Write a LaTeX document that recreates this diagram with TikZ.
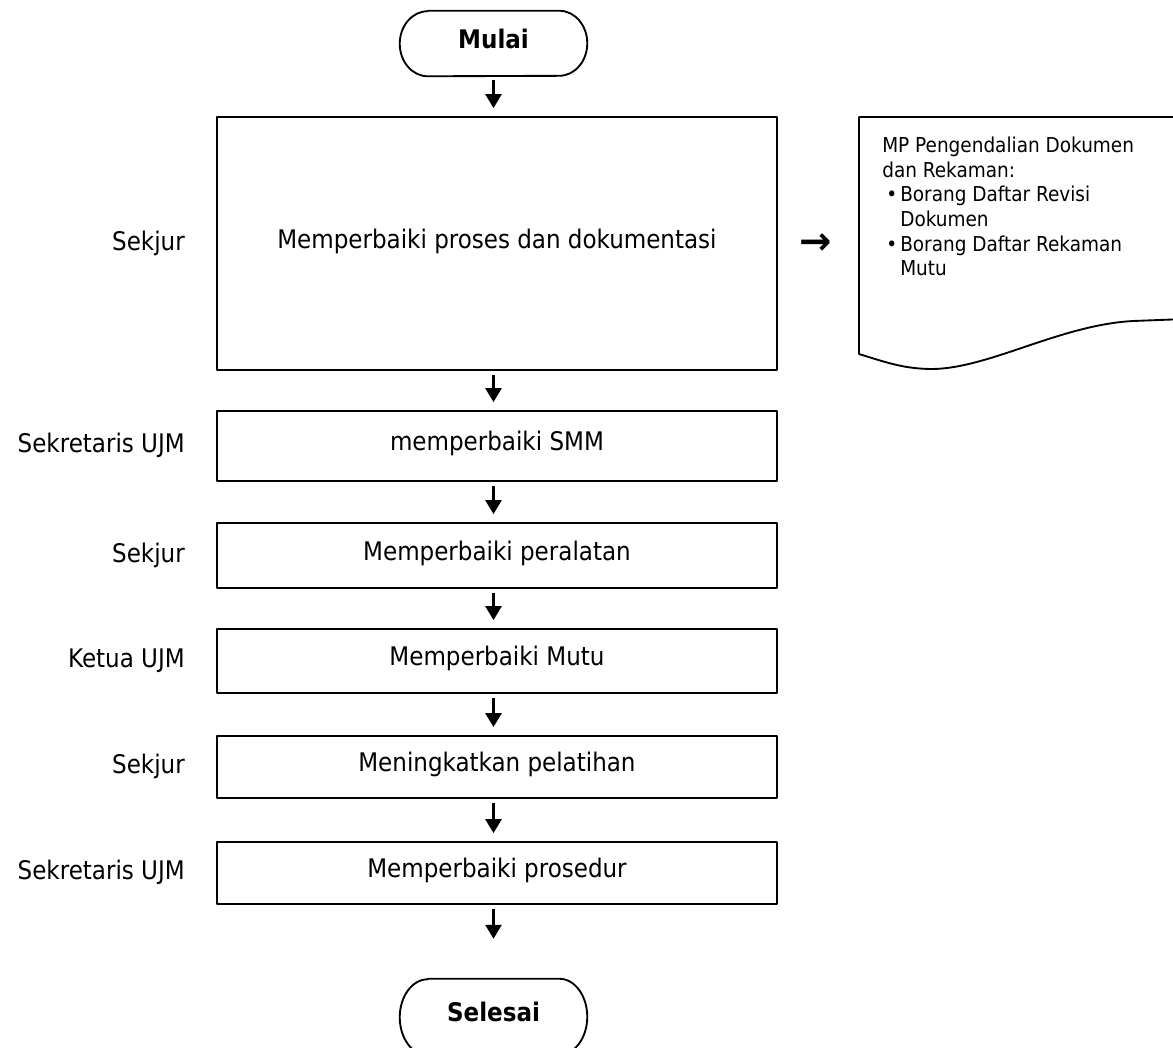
\documentclass[tikz,border=0pt]{standalone}
\usepackage{fontspec}
\setmainfont{DejaVu Sans Condensed}
\newfontfamily\arrowfont{DejaVu Sans}
\usetikzlibrary{arrows.meta}
\begin{document}
\begin{tikzpicture}[x=0.75pt,y=-0.75pt,line join=round,
    >={Triangle[length=10.5pt,width=12pt]},
    font=\fontsize{19.2pt}{23pt}\selectfont,
    edge/.style={line width=1.4pt},
    txt/.style={inner sep=0pt,text height=0.73em,text depth=0pt},
    box/.style={edge,draw,txt,minimum width=420pt},
    term/.style={txt,font=\fontsize{19.2pt}{23pt}\selectfont\bfseries,minimum width=140.25pt},
    flow/.style={->,line width=2.1pt,shorten <=3pt,shorten >=6pt},
    doctext/.style={inner sep=0pt,align=left,font=\fontsize{15.4pt}{18.4pt}\selectfont}]
    \useasboundingbox (0,0) rectangle (1173,1047);
    \clip (0,0) rectangle (1173,1047);
    \node[term,minimum height=48.75pt] (mulai) at (493.5,43.5) {Mulai};
    \node[term,minimum height=57pt] (selesai) at (493.5,1017) {Selesai};
    \foreach \n/\ry in {mulai/24.4pt,selesai/28.5pt}
        \draw[edge] ([xshift=21pt]\n.north west) -- ([xshift=-21pt]\n.north east)
            arc[start angle=90,end angle=-90,x radius=21pt,y radius=\ry]
            -- ([xshift=21pt]\n.south west)
            arc[start angle=270,end angle=90,x radius=21pt,y radius=\ry] -- cycle;
    \foreach \t/\b/\txt/\who [count=\i] in {117/370/Memperbaiki proses dan dokumentasi/Sekjur,
        411/481/memperbaiki SMM/Sekretaris UJM,523/588/Memperbaiki peralatan/Sekjur,
        629/693/Memperbaiki Mutu/Ketua UJM,736/798/Meningkatkan pelatihan/Sekjur,
        842/904/Memperbaiki prosedur/Sekretaris UJM}
    {
        \node[box,minimum height={(\b-\t)*0.75pt}] (box\i) at (497,{(\t+\b)/2}) {\txt};
        \node[txt,anchor=east] (who\i) at (185,{(\t+\b)/2+2}) {\who};
    }
    \draw[flow] (mulai.south) -- (mulai.south |- box1.north);
    \foreach \i/\j in {1/2,2/3,3/4,4/5,5/6}
        \draw[flow] (box\i.south -| mulai) -- (box\j.north -| mulai);
    \draw[flow,shorten >=30pt] (box6.south -| mulai) -- (selesai.north);
    \node[txt,font=\fontsize{29pt}{33pt}\arrowfont\bfseries] (pointer) at (815.5,250) {→};
    \draw[edge] (1185,117) -- (859,117) -- (859,354) .. controls (888,363) and (905,369) .. (933,369)
        .. controls (990,368) and (1060,325) .. (1133,321) -- (1185,319);
    \node[doctext,anchor=north west] (note) at (882,137) {MP Pengendalian Dokumen\\dan Rekaman:\\
        \hspace*{3pt}\makebox[10.5pt][l]{•}Borang Daftar Revisi\\\hspace*{13.5pt}Dokumen\\
        \hspace*{3pt}\makebox[10.5pt][l]{•}Borang Daftar Rekaman\\\hspace*{13.5pt}Mutu};
\end{tikzpicture}
\end{document}
